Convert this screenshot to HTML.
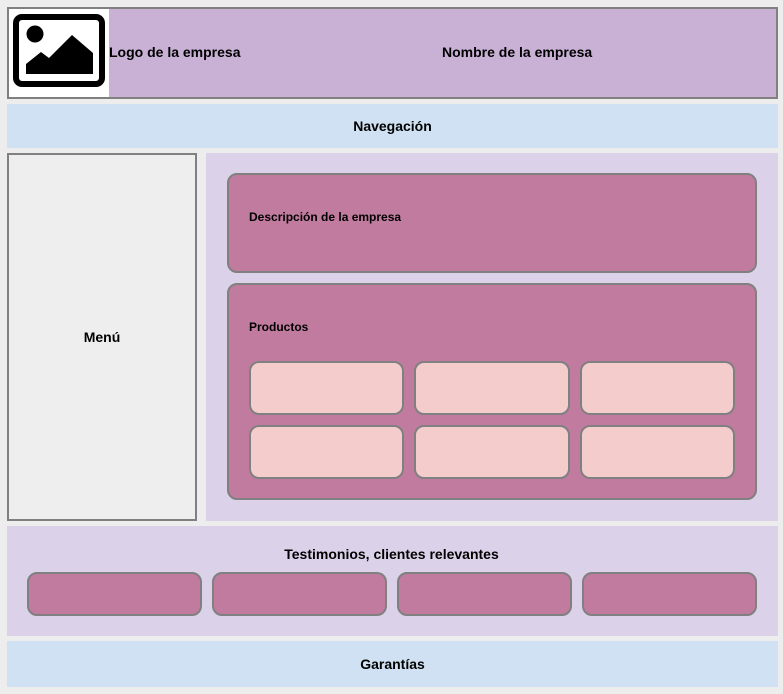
<!DOCTYPE html>
<html><head><meta charset="utf-8"><style>
html,body{margin:0;padding:0;}
body{width:783px;height:694px;background:#ededed;position:relative;overflow:hidden;font-family:"Liberation Sans",Arial,sans-serif;font-weight:bold;color:#000;}
.a{position:absolute;box-sizing:border-box;}
.t{position:absolute;white-space:nowrap;}
.c{display:flex;align-items:center;justify-content:center;}
.r{border:2px solid #808080;border-radius:10px;}
.pk{background:#c17b9f;}
.lp{background:#f4cccc;}
</style></head><body>
<div class="a" style="left:7px;top:7px;width:771px;height:92px;background:#c8b1d5;border:2px solid #808080;"></div>
<div class="a" style="left:9px;top:9px;width:100px;height:88px;background:#fff;"></div>
<svg class="a" style="left:0;top:0" width="110" height="100" viewBox="0 0 110 100">
<rect x="16" y="17" width="86" height="67" rx="6" fill="none" stroke="#000" stroke-width="6"/>
<circle cx="35" cy="34" r="8.5" fill="#000"/>
<polygon points="26,64 41,52 49,58 72,35 93,53 93,74 26,74" fill="#000"/>
</svg>
<div class="t" style="left:109px;top:44px;font-size:14px;">Logo de la empresa</div>
<div class="t" style="left:442px;top:44px;font-size:14px;">Nombre de la empresa</div>

<div class="a c" style="left:7px;top:104px;width:771px;height:44px;background:#cfe1f2;font-size:14px;">Navegación</div>

<div class="a c" style="left:7px;top:153px;width:190px;height:368px;background:#eeeeee;border:2px solid #808080;font-size:14px;">Menú</div>
<div class="a" style="left:206px;top:153px;width:572px;height:368px;background:#dbd2e9;"></div>
<div class="a r pk" style="left:227px;top:173px;width:530px;height:100px;"></div>
<div class="t" style="left:249px;top:210px;font-size:12px;">Descripción de la empresa</div>
<div class="a r pk" style="left:227px;top:283px;width:530px;height:217px;"></div>
<div class="t" style="left:249px;top:320px;font-size:12px;">Productos</div>
<div class="a r lp" style="left:249px;top:361px;width:155px;height:54px;"></div>
<div class="a r lp" style="left:414px;top:361px;width:156px;height:54px;"></div>
<div class="a r lp" style="left:580px;top:361px;width:155px;height:54px;"></div>
<div class="a r lp" style="left:249px;top:425px;width:155px;height:54px;"></div>
<div class="a r lp" style="left:414px;top:425px;width:156px;height:54px;"></div>
<div class="a r lp" style="left:580px;top:425px;width:155px;height:54px;"></div>

<div class="a" style="left:7px;top:526px;width:771px;height:110px;background:#dbd2e9;"></div>
<div class="t" style="left:0;width:783px;text-align:center;top:546px;font-size:14px;">Testimonios, clientes relevantes</div>
<div class="a r pk" style="left:27px;top:572px;width:175px;height:44px;"></div>
<div class="a r pk" style="left:212px;top:572px;width:175px;height:44px;"></div>
<div class="a r pk" style="left:397px;top:572px;width:175px;height:44px;"></div>
<div class="a r pk" style="left:582px;top:572px;width:175px;height:44px;"></div>

<div class="a c" style="left:7px;top:641px;width:771px;height:46px;background:#cfe1f2;font-size:14px;">Garantías</div>
</body></html>
